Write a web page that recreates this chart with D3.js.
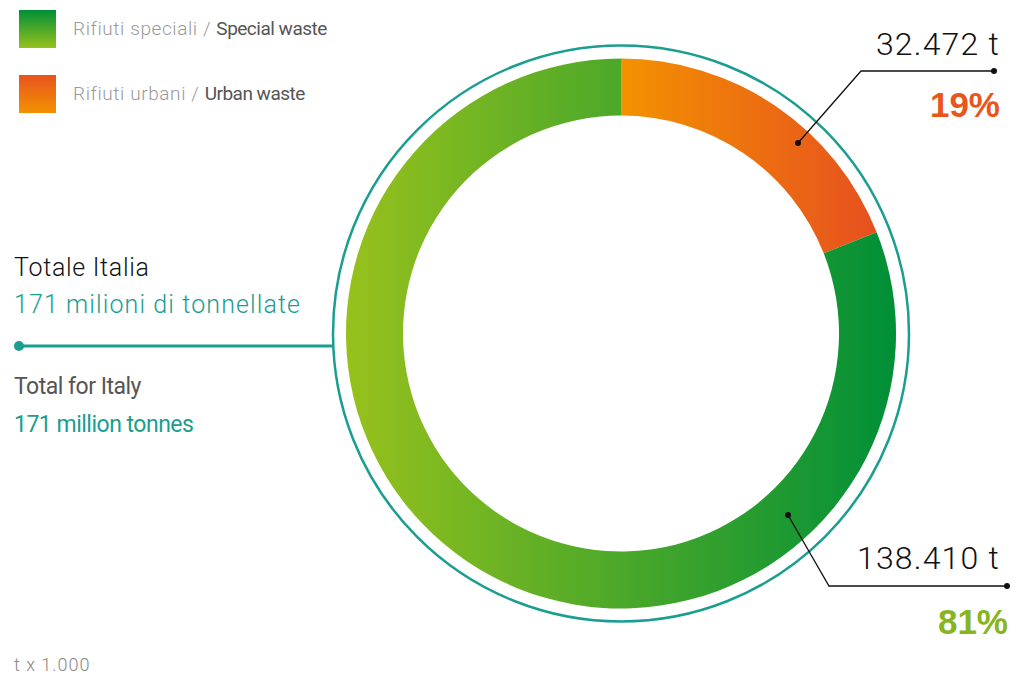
<!DOCTYPE html>
<html>
<head>
<meta charset="utf-8">
<script src="https://cdn.jsdelivr.net/npm/d3@7"></script>
<style>
  body { margin: 0; background: #fff; }
  svg { display: block; }
  .light { font-family: "Roboto", "Liberation Sans", sans-serif; font-weight: 300; }
  .narrow { font-family: "Roboto", "Liberation Sans", sans-serif; font-weight: 400; letter-spacing: -0.5px; }
</style>
</head>
<body>
<svg id="chart"></svg>
<script>
// Data
const categories = ["Rifiuti urbani", "Rifiuti speciali"];
const categoriesEn = ["Urban waste", "Special waste"];
const values = [32472, 138410];          // t x 1.000
const valueLabels = ["32.472 t", "138.410 t"];
const percentLabels = ["19%", "81%"];

const width = 1027, height = 675;
const cx = 621, cy = 333.5;
const rOuter = 275, rInner = 218, rRing = 288;

const teal = "#1a9e8f";

var svg = d3.select("#chart")
    .attr("width", width)
    .attr("height", height)
    .attr("viewBox", [0, 0, width, height]);

var defs = svg.append("defs");

// horizontal gradients for the donut slices
function hGrad(id, x1, x2, c1, c2) {
  var g = defs.append("linearGradient").attr("id", id)
      .attr("gradientUnits", "userSpaceOnUse")
      .attr("x1", x1).attr("x2", x2).attr("y1", 0).attr("y2", 0);
  g.append("stop").attr("offset", "0%").attr("stop-color", c1);
  g.append("stop").attr("offset", "100%").attr("stop-color", c2);
}
// vertical ones for the legend squares
function vGrad(id, c1, c2) {
  var g = defs.append("linearGradient").attr("id", id)
      .attr("x1", 0).attr("x2", 0).attr("y1", 0).attr("y2", 1);
  g.append("stop").attr("offset", "0%").attr("stop-color", c1);
  g.append("stop").attr("offset", "100%").attr("stop-color", c2);
}
hGrad("gUrban", cx, cx + 255, "#f39200", "#e6501f");
hGrad("gSpecial", cx - rOuter, cx + rOuter, "#97c11c", "#008f37");
vGrad("lUrban", "#e7531e", "#f39200");
vGrad("lSpecial", "#008f37", "#97c11c");

var fills = ["url(#gUrban)", "url(#gSpecial)"];
var legendFills = ["url(#lUrban)", "url(#lSpecial)"];

// Outer thin ring
svg.append("circle")
    .attr("cx", cx).attr("cy", cy).attr("r", rRing)
    .attr("fill", "none").attr("stroke", teal).attr("stroke-width", 2.5);

// Donut: angles from d3.pie, arcs drawn in absolute coords so the
// userSpaceOnUse gradients line up with the page
var pie = d3.pie().sort(null).value(function(d) { return d; });
var arcs = pie(values);

svg.selectAll("path.slice")
    .data(arcs)
  .enter().append("path")
    .attr("class", "slice")
    .attr("d", function(d) {
      var p = d3.path();
      var a0 = d.startAngle - Math.PI / 2, a1 = d.endAngle - Math.PI / 2;
      p.arc(cx, cy, rOuter, a0, a1);
      p.arc(cx, cy, rInner, a1, a0, true);
      p.closePath();
      return p.toString();
    })
    .attr("fill", function(d, i) { return fills[i]; });

// Leaders for slice labels
var leaders = [
  {dot: [798, 143], elbow: [861, 71], end: [994, 71], valueY: 55, pctY: 117, pctX: 1000, color: "#e8561c"},
  {dot: [788, 515], elbow: [829, 586], end: [1007, 586], valueY: 569, pctY: 634, pctX: 1008, color: "#86b520"}
];
leaders.forEach(function(l, i) {
  svg.append("polyline")
      .attr("points", [l.dot, l.elbow, l.end].map(function(p) { return p.join(","); }).join(" "))
      .attr("fill", "none").attr("stroke", "#111").attr("stroke-width", 1.3);
  svg.append("circle").attr("cx", l.dot[0]).attr("cy", l.dot[1]).attr("r", 3).attr("fill", "#111");
  svg.append("circle").attr("cx", l.end[0]).attr("cy", l.end[1]).attr("r", 3).attr("fill", "#111");
  svg.append("text").attr("class", "light")
      .attr("x", 1000).attr("y", l.valueY)
      .attr("text-anchor", "end")
      .attr("font-size", 32).attr("letter-spacing", 1.2).attr("fill", "#111")
      .text(valueLabels[i]);
  svg.append("text")
      .attr("x", l.pctX).attr("y", l.pctY)
      .attr("text-anchor", "end")
      .attr("font-family", "'Liberation Sans', Arial, sans-serif")
      .attr("font-weight", 700)
      .attr("font-size", 35).attr("fill", l.color)
      .text(percentLabels[i]);
});

// Legend (special first, urban second)
[1, 0].forEach(function(idx, row) {
  var y = 10 + row * 65;
  svg.append("rect").attr("x", 19).attr("y", y).attr("width", 37).attr("height", 38)
      .attr("fill", legendFills[idx]);
  var t = svg.append("text").attr("x", 73).attr("y", y + 25).attr("font-size", 19);
  t.append("tspan").attr("class", "light").attr("letter-spacing", 0.6)
      .attr("fill", "#9a9a9a").text(categories[idx] + " / ");
  t.append("tspan").attr("class", "narrow").attr("fill", "#555").text(categoriesEn[idx]);
});

// Total block
svg.append("text").attr("class", "light").attr("x", 14).attr("y", 276)
    .attr("font-size", 25).attr("letter-spacing", 0.7).attr("fill", "#111").text("Totale Italia");
svg.append("text").attr("class", "light").attr("x", 14).attr("y", 313)
    .attr("font-size", 25).attr("letter-spacing", 1.1).attr("fill", teal).text("171 milioni di tonnellate");
svg.append("line").attr("x1", 19).attr("x2", cx - rRing).attr("y1", 346).attr("y2", 346)
    .attr("stroke", teal).attr("stroke-width", 3);
svg.append("circle").attr("cx", 19).attr("cy", 346).attr("r", 5).attr("fill", teal);
svg.append("text").attr("class", "narrow").attr("x", 14).attr("y", 394)
    .attr("font-size", 23).attr("fill", "#555").text("Total for Italy");
svg.append("text").attr("class", "narrow").attr("x", 14).attr("y", 432)
    .attr("font-size", 23).attr("letter-spacing", -0.1).attr("fill", teal).text("171 million tonnes");

// Unit note
svg.append("text").attr("class", "light").attr("x", 14).attr("y", 671)
    .attr("font-size", 18).attr("letter-spacing", 1).attr("fill", "#888").text("t x 1.000");
</script>
</body>
</html>
